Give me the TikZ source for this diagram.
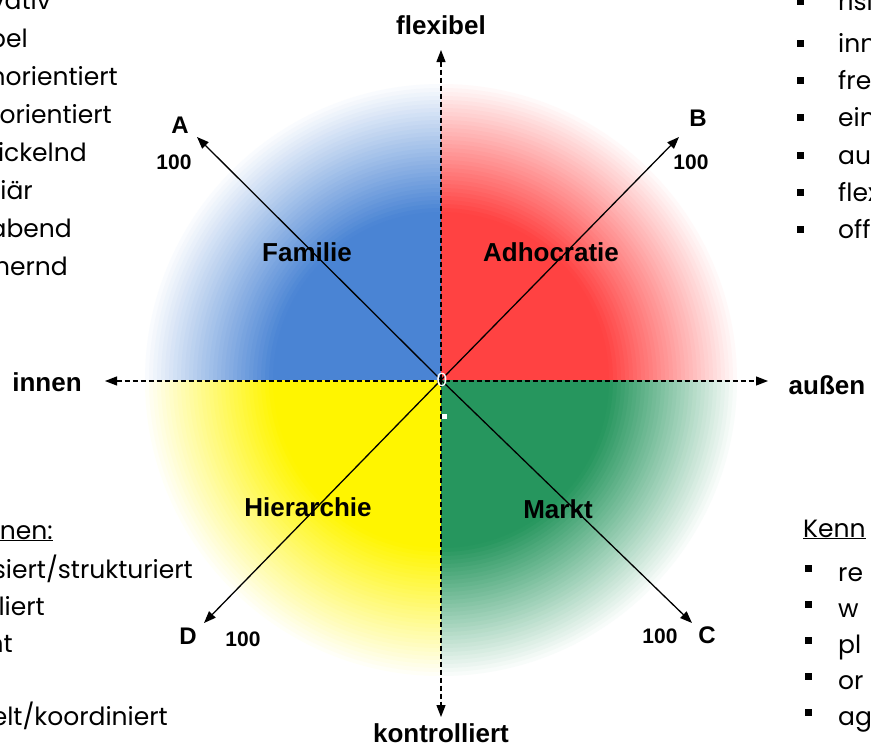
\documentclass[tikz,border=0pt]{standalone}
\usepackage{fontspec}
\setmainfont{Liberation Sans}
\newfontfamily\listfont{Poppins}
\usetikzlibrary{arrows.meta}
\definecolor{famblue}{RGB}{74,132,212}
\definecolor{adhred}{RGB}{255,66,66}
\definecolor{hieryellow}{RGB}{255,245,0}
\definecolor{mktgreen}{RGB}{38,150,94}
\tikzset{
  axislabel/.style={font=\fontsize{26}{30}\selectfont\bfseries, inner sep=0pt},
  quadlabel/.style={font=\fontsize{26}{30}\selectfont\bfseries, inner sep=0pt},
  endletter/.style={font=\fontsize{24}{26}\selectfont\bfseries, inner sep=0pt},
  endvalue/.style={font=\fontsize{21}{24}\selectfont\bfseries, inner sep=0pt},
  listtext/.style={font=\listfont\fontsize{25}{30}\selectfont, inner sep=0pt},
  bulletsq/.style={rectangle, fill=black, minimum size=7pt, inner sep=0pt},
  axisline/.style={dash pattern=on 5pt off 3pt, line width=1.2pt,
                   {Triangle[length=12pt,width=9pt]}-{Triangle[length=12pt,width=9pt]}},
  diagarrow/.style={-{Triangle[length=12pt,width=9pt]}, line width=1.3pt}
}

\begin{document}
\begin{tikzpicture}[x=1pt, y=-1pt]
  \useasboundingbox (0,0) rectangle (871,747);
  \clip (0,0) rectangle (871,747);

  \coordinate (o) at (441,380);

  % quadrants, fading out to white
  \foreach \qc/\dx/\dy in {famblue/-1/-1, adhred/1/-1, hieryellow/-1/1, mktgreen/1/1}{
    \begin{scope}
      \clip (o) rectangle ++(300*\dx,300*\dy);
      \foreach \r in {300,296,...,4}{
        \pgfmathsetmacro\pc{min(100,max(0,(300-\r)/1.3))}
        \fill[\qc!\pc!white] (o) circle[radius=\r pt];
      }
    \end{scope}
  }

  % axes
  \node[axislabel] (flex)   at (441,25)  {flexibel};
  \node[axislabel] (kontr)  at (441,733) {kontrolliert};
  \node[axislabel] (innen)  at (47,382)  {innen};
  \node[axislabel] (aussen) at (827,385) {außen};

  \coordinate (flexTip)   at (441,50);
  \coordinate (kontrTip)  at (441,717);
  \coordinate (innenTip)  at (105,381);
  \coordinate (aussenTip) at (768,381);

  \draw[axisline] (innenTip) -- (aussenTip);
  \draw[axisline] (flexTip) -- (kontrTip);

  % quadrant names
  \node[quadlabel] (fam) at (307,252) {Familie};
  \node[quadlabel] (adh) at (551,252) {Adhocratie};
  \node[quadlabel] (hie) at (308,507) {Hierarchie};
  \node[quadlabel] (mkt) at (558,509) {Markt};

  % diagonals
  \coordinate (tipA) at (197,137);
  \coordinate (tipB) at (679,137);
  \coordinate (tipC) at (692,623);
  \coordinate (tipD) at (204,623);
  \foreach \t in {A,B,C,D}
    \draw[diagarrow] (o) -- (tip\t);

  \node[endletter] (letA) at (180,125) {A};
  \node[endvalue]  (valA) at (174,162) {100};
  \node[endletter] (letB) at (698,118) {B};
  \node[endvalue]  (valB) at (691,162) {100};
  \node[endletter] (letC) at (707,635) {C};
  \node[endvalue]  (valC) at (660,636) {100};
  \node[endletter] (letD) at (188,636) {D};
  \node[endvalue]  (valD) at (243,639) {100};

  \node[inner sep=0pt, text=white, font=\fontsize{19}{20}\selectfont] (zero) at (442,380) {0};
  \node[fill=white, minimum size=5pt, inner sep=0pt] (mark) at (444,416) {};

  % left lists
  \foreach \txt/\xe/\yb [count=\i] in {vativ/51/9, bel/28/47, norientiert/118/85,
      orientiert/112/123, ickelnd/87/161, iär/33/199, abend/72/237, mernd/68/275}
    \node[listtext, anchor=base east] (ltop\i) at (\xe,\yb) {\txt};

  \node[listtext, anchor=base east] (lhead) at (53,539) {\underline{nen:}};
  \foreach \txt/\xe/\yb [count=\i] in {{siert/strukturiert}/193/578, liert/45/615,
      nt/13/652, {elt/koordiniert}/168/725}
    \node[listtext, anchor=base east] (lbot\i) at (\xe,\yb) {\txt};

  % right lists
  \foreach \txt/\yb [count=\i] in {risi/10, inn/52, fre/89, ein/126, au/164, flex/201, off/238}{
    \node[bulletsq] (rtb\i) at (800,\yb-9) {};
    \node[listtext, anchor=base west] (rtop\i) at (838,\yb) {\txt};
  }

  \node[listtext, anchor=base west] (rhead) at (803,537) {\underline{Kenn}};
  \foreach \txt/\yb [count=\i] in {re/581, w/617, pl/653, or/689, ag/725}{
    \node[bulletsq] (rbb\i) at (808,\yb-13) {};
    \node[listtext, anchor=base west] (rbot\i) at (838,\yb) {\txt};
  }
\end{tikzpicture}
\end{document}
